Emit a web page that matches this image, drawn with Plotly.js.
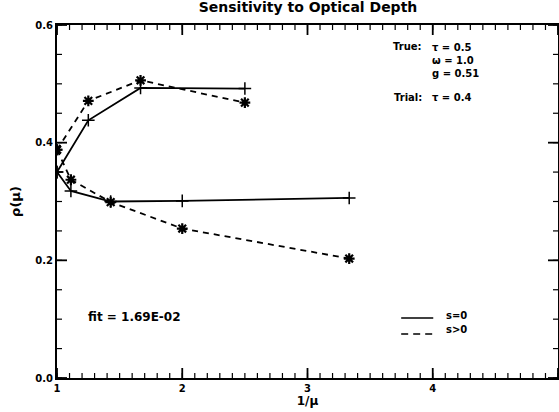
<!DOCTYPE html>
<html>
<head>
<meta charset="utf-8">
<script src="https://cdn.plot.ly/plotly-3.0.1.min.js"></script>
<style>html,body{margin:0;padding:0;background:#fff;}#chart{width:559px;height:412px;}</style>
</head>
<body>
<div id="chart"></div>
<script>
// data
const upperSolidX = [1.0, 1.25, 1.667, 2.5];
const upperSolidY = [0.350, 0.438, 0.493, 0.492];
const upperDashX = [1.0, 1.25, 1.667, 2.5];
const upperDashY = [0.388, 0.471, 0.506, 0.468];
const lowerSolidX = [1.0, 1.111, 1.4286, 2.0, 3.333];
const lowerSolidY = [0.350, 0.318, 0.300, 0.301, 0.306];
const lowerDashX = [1.0, 1.111, 1.4286, 2.0, 3.333];
const lowerDashY = [0.388, 0.337, 0.299, 0.254, 0.203];
const xTicks = [1, 2, 3, 4, 5];
const yTicks = [0.0, 0.2, 0.4, 0.6];
const yTickText = ['0.0', '0.2', '0.4', '0.6'];
const legendLabels = ['s=0', 's>0'];

const xRange = [1, 5];
const yRange = [0, 0.6];
const xMinorStep = 0.1;
const yMinorStep = 0.05;

const W = 559, H = 412;
const M = {l: 57, r: 1, t: 25, b: 34};
const plotW = W - M.l - M.r, plotH = H - M.t - M.b;

const font = 'DejaVu Sans, sans-serif';
function solid(x, y) {
  return {x: x, y: y, mode: 'lines+markers', showlegend: false,
    line: {color: '#000', width: 1.8, dash: 'solid'},
    marker: {symbol: 'cross-thin-open', size: 9, line: {color: '#000', width: 1.5}}};
}
function dashed(x, y) {
  return {x: x, y: y, mode: 'lines+markers', showlegend: false,
    line: {color: '#000', width: 1.8, dash: '6px,5px'},
    marker: {symbol: 'asterisk-open', size: 9, line: {color: '#000', width: 2.2}}};
}

// IDL-style inside ticks on all four sides, drawn as short line segments (null-separated)
function steps(a, b, s) { const out = []; const n = Math.round((b - a) / s); for (let i = 0; i <= n; i++) out.push(a + i * s); return out; }
const xMinor = steps(xRange[0], xRange[1], xMinorStep);
const yMinor = steps(yRange[0], yRange[1], yMinorStep);
function tickTrace(xVals, yVals, lenPx, width) {
  const dy = (yRange[1] - yRange[0]) * lenPx / plotH;
  const dx = (xRange[1] - xRange[0]) * lenPx / plotW;
  const x = [], y = [];
  xVals.forEach(v => {
    x.push(v, v, null); y.push(yRange[0], yRange[0] + dy, null);
    x.push(v, v, null); y.push(yRange[1], yRange[1] - dy, null);
  });
  yVals.forEach(v => {
    x.push(xRange[0], xRange[0] + dx, null); y.push(v, v, null);
    x.push(xRange[1], xRange[1] - dx, null); y.push(v, v, null);
  });
  return {x: x, y: y, mode: 'lines', showlegend: false, hoverinfo: 'skip', connectgaps: false,
    line: {color: '#000', width: width}};
}

const traces = [
  tickTrace(xMinor, yMinor, 5, 1.2),
  tickTrace(xTicks, yTicks, 10, 1.8),
  solid(upperSolidX, upperSolidY),
  dashed(upperDashX, upperDashY),
  solid(lowerSolidX, lowerSolidY),
  dashed(lowerDashX, lowerDashY)
];

const tf = {family: font, size: 10, color: '#000', weight: 'bold'};
const af = {family: font, size: 10, color: '#000', weight: 'bold'};

const layout = {
  width: W, height: H,
  margin: M,
  paper_bgcolor: '#fff', plot_bgcolor: '#fff',
  title: {text: 'Sensitivity to Optical Depth', x: 0.551, xanchor: 'center', y: 0.995, yanchor: 'top',
    font: {family: font, size: 14, color: '#000', weight: 'bold'}},
  xaxis: {
    range: xRange, tickvals: xTicks, ticktext: xTicks.map(String),
    showgrid: false, zeroline: false, showline: true, linecolor: 'black', linewidth: 2,
    mirror: true, ticks: '', tickfont: tf,
    title: {text: '1/μ', standoff: 2, font: {family: font, size: 12, color: '#000', weight: 'bold'}}
  },
  yaxis: {
    range: yRange, tickvals: yTicks, ticktext: yTickText,
    showgrid: false, zeroline: false, showline: true, linecolor: 'black', linewidth: 2,
    mirror: true, ticks: '', tickfont: tf,
    title: {text: 'ρ(μ)', standoff: 12, font: {family: font, size: 13, color: '#000', weight: 'bold'}}
  },
  shapes: [
    {type: 'line', xref: 'paper', yref: 'paper', x0: 0.687, x1: 0.751, y0: 0.170, y1: 0.170,
      line: {color: '#000', width: 1.5}},
    {type: 'line', xref: 'paper', yref: 'paper', x0: 0.687, x1: 0.751, y0: 0.125, y1: 0.125,
      line: {color: '#000', width: 1.5, dash: '7px,5px'}}
  ],
  annotations: [
    {text: 'True:', xref: 'paper', yref: 'paper', x: 0.7325, y: 0.938, xanchor: 'right', yanchor: 'middle', showarrow: false, font: af},
    {text: 'τ = 0.5<br>ω = 1.0<br>g = 0.51', align: 'left', xref: 'paper', yref: 'paper', x: 0.744, y: 0.958, xanchor: 'left', yanchor: 'top', showarrow: false, font: af},
    {text: 'Trial:', xref: 'paper', yref: 'paper', x: 0.7325, y: 0.796, xanchor: 'right', yanchor: 'middle', showarrow: false, font: af},
    {text: 'τ = 0.4', xref: 'paper', yref: 'paper', x: 0.744, y: 0.796, xanchor: 'left', yanchor: 'middle', showarrow: false, font: af},
    {text: 'fit = 1.69E-02', xref: 'paper', yref: 'paper', x: 0.058, y: 0.173, xanchor: 'left', yanchor: 'middle', showarrow: false,
      font: {family: font, size: 12, color: '#000', weight: 'bold'}},
    {text: legendLabels[0], xref: 'paper', yref: 'paper', x: 0.772, y: 0.176, xanchor: 'left', yanchor: 'middle', showarrow: false, font: af},
    {text: legendLabels[1], xref: 'paper', yref: 'paper', x: 0.772, y: 0.136, xanchor: 'left', yanchor: 'middle', showarrow: false, font: af}
  ]
};

Plotly.newPlot('chart', traces, layout, {displayModeBar: false, staticPlot: true});
</script>
</body>
</html>
